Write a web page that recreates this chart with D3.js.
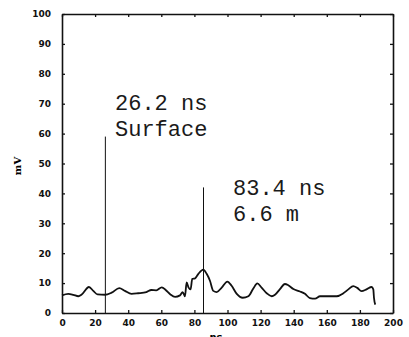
<!DOCTYPE html>
<html>
<head>
<meta charset="utf-8">
<script src="https://cdn.jsdelivr.net/npm/d3@7"></script>
<style>
  html, body { margin: 0; padding: 0; background: #fff; }
  svg { display: block; }
  .tick text { font-family: "DejaVu Sans", sans-serif; font-weight: bold; font-size: 9px; fill: #111; }
  .note { font-family: "Liberation Mono", "Courier New", monospace; font-size: 22px; fill: #1a1a1a; }
</style>
</head>
<body>
<div id="chart"></div>
<script>
// Time axis (ns) and signal (mV)
const timeNs = [0, 3.8, 6.8, 9.9, 11.9, 16.3, 18.9, 21.5, 26, 30, 34.6, 38, 42, 46, 51, 54, 57, 60.3, 62.8, 65.5,
  68.3, 71.3, 72.9, 74.3, 75.3, 76.5, 77.7, 78.7, 80.4, 82.4, 85.4, 87.4, 89.4, 91.4, 93.5, 96.5, 99.9, 102.5,
  105.6, 109.2, 112.6, 115.6, 118, 120.6, 123.7, 126.7, 128.7, 131.7, 134.7, 136.7, 139.8, 143.8, 146.8, 149.8,
  152.9, 155.9, 159.9, 166, 170, 173, 176, 178.4, 181, 184, 187.1, 188.1, 188.5, 189.3];
const signalMv = [5.9, 6.4, 6.1, 5.6, 6.2, 8.7, 7.4, 6.2, 6.1, 6.8, 8.3, 7.4, 6.4, 6.6, 7.0, 7.7, 7.6, 8.6, 7.6, 6.2,
  5.4, 5.9, 7.0, 5.6, 10.2, 8.5, 7.9, 11.4, 11.6, 13.1, 14.5, 13.1, 10.8, 7.4, 7.0, 8.5, 10.5, 9.1,
  6.4, 5.1, 5.6, 8.2, 9.9, 8.5, 6.6, 5.6, 6.1, 8.0, 9.7, 9.3, 8.0, 7.2, 6.4, 5.0,
  4.8, 5.6, 5.6, 5.6, 6.6, 7.9, 9.0, 8.4, 7.3, 7.9, 8.7, 7.9, 5.1, 2.8];

// Marker lines: position (ns), top (mV), and their labels
const markerNs = [26.2, 85.5];
const markerTop = [59, 42];
const markerLabels = [["26.2 ns", "Surface"], ["83.4 ns", "6.6 m"]];

const xTicks = [0, 20, 40, 60, 80, 100, 120, 140, 160, 180, 200];
const yTicks = [0, 10, 20, 30, 40, 50, 60, 70, 80, 90, 100];

const W = 409, H = 337;
const margin = { top: 14, right: 16, bottom: 24, left: 62 };
const width = W - margin.left - margin.right;
const height = H - margin.top - margin.bottom;

const svg = d3.select('#chart').append('svg')
    .attr('width', W)
    .attr('height', H);

const g = svg.append('g')
    .attr('transform', `translate(${margin.left},${margin.top})`);

const x = d3.scaleLinear().domain([0, 200]).range([0, width]);
const y = d3.scaleLinear().domain([0, 100]).range([height, 0]);

// Axes, ticks pointing into the plot
g.append('g')
    .attr('transform', `translate(0,${height})`)
    .call(d3.axisBottom(x).tickValues(xTicks).tickSize(-3).tickSizeOuter(0).tickPadding(7));

g.append('g')
    .call(d3.axisLeft(y).tickValues(yTicks).tickSize(-3).tickSizeOuter(0).tickPadding(11));

g.append('g')
    .call(d3.axisTop(x).tickValues(xTicks).tickSize(-3).tickSizeOuter(0).tickFormat(''));

g.append('g')
    .attr('transform', `translate(${width},0)`)
    .call(d3.axisRight(y).tickValues(yTicks).tickSize(-3).tickSizeOuter(0).tickFormat(''));

g.selectAll('.domain').attr('stroke', '#111').attr('stroke-width', 1.6);
g.selectAll('.tick line').attr('stroke', '#111').attr('stroke-width', 1.3);

// Axis titles
g.append('text')
    .attr('x', x(93))
    .attr('y', height + 28)
    .attr('text-anchor', 'middle')
    .style('font-family', '"DejaVu Sans", sans-serif')
    .style('font-weight', 'bold')
    .style('font-size', '10px')
    .text('ns');

svg.append('text')
    .attr('transform', `translate(21,166) rotate(-90)`)
    .attr('text-anchor', 'middle')
    .style('font-family', '"DejaVu Serif", serif')
    .style('font-weight', 'bold')
    .style('font-size', '10px')
    .text('mV');

// Marker lines
g.selectAll('.marker')
    .data(markerNs)
    .enter()
    .append('line')
    .attr('class', 'marker')
    .attr('x1', d => x(d))
    .attr('x2', d => x(d))
    .attr('y1', y(0))
    .attr('y2', (d, i) => y(markerTop[i]))
    .attr('stroke', '#111')
    .attr('stroke-width', 1);

// Marker labels
const labelPos = [[115, 110], [233, 195]];
markerLabels.forEach((lines, i) => {
    lines.forEach((t, j) => {
        svg.append('text')
            .attr('class', 'note')
            .attr('x', labelPos[i][0])
            .attr('y', labelPos[i][1] + j * 26)
            .text(t);
    });
});

// Signal trace
const line = d3.line()
    .x((d, i) => x(timeNs[i]))
    .y(d => y(d))
    .curve(d3.curveMonotoneX);

g.append('path')
    .datum(signalMv)
    .attr('fill', 'none')
    .attr('stroke', '#111')
    .attr('stroke-width', 1.8)
    .attr('stroke-linejoin', 'round')
    .attr('d', line);
</script>
</body>
</html>
